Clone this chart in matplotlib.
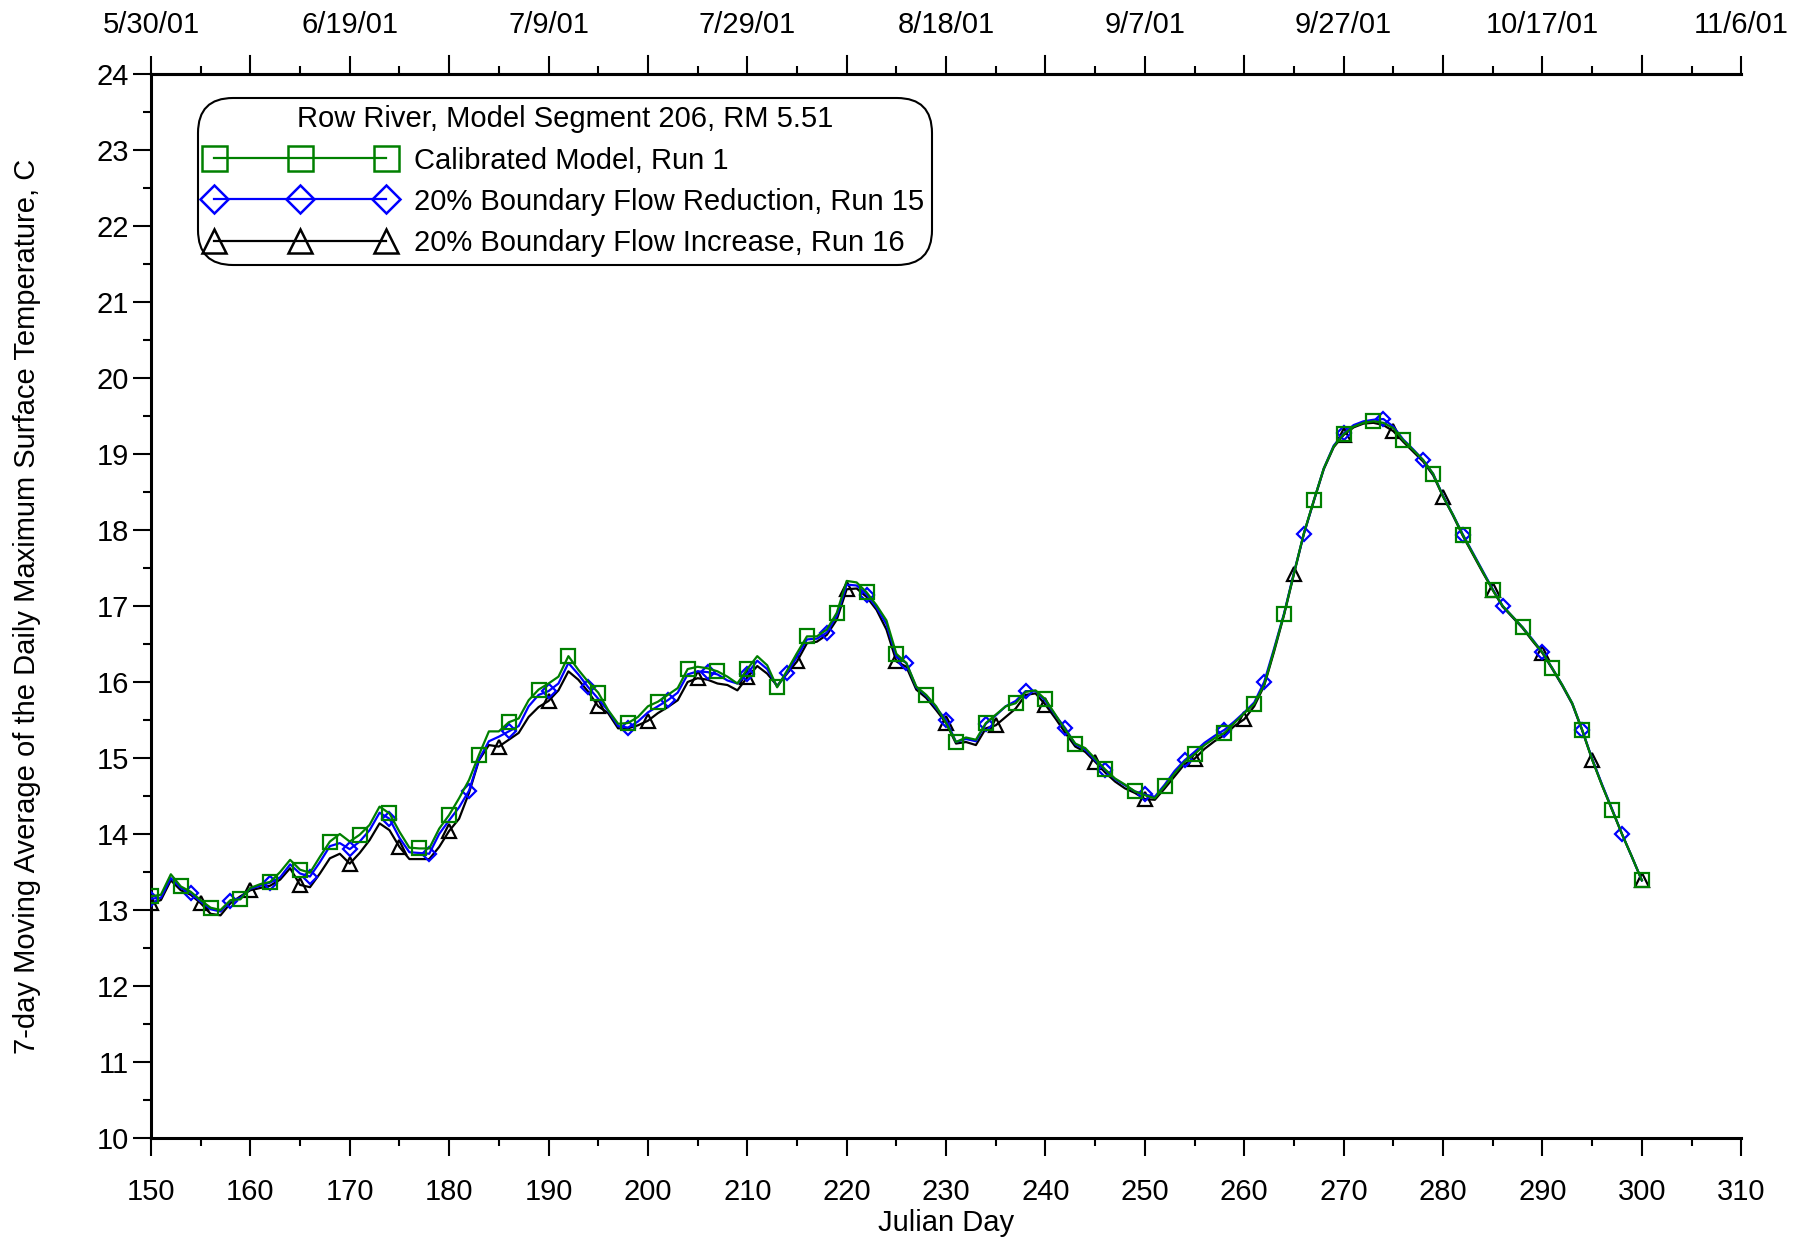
import numpy as np
import matplotlib
matplotlib.use("Agg")
import matplotlib.pyplot as plt
from matplotlib.lines import Line2D
from matplotlib.ticker import MultipleLocator

plt.rcParams['font.family'] = ['Liberation Sans', 'DejaVu Sans']

# ---------------------------------------------------------------------------
# data: 7-day moving average of daily max temperature, Julian days 150..300
# ---------------------------------------------------------------------------
days = list(range(150, 301))

run1_calibrated = [
    13.18, 13.20, 13.47, 13.31, 13.24, 13.13, 13.03, 13.00, 13.13, 13.14,  # 150
    13.29, 13.34, 13.37, 13.50, 13.66, 13.53, 13.49, 13.70, 13.90, 14.00,  # 160
    13.90, 13.99, 14.12, 14.36, 14.27, 14.03, 13.82, 13.81, 13.81, 14.07,  # 170
    14.25, 14.47, 14.71, 15.04, 15.35, 15.35, 15.47, 15.52, 15.76, 15.90,  # 180
    15.98, 16.07, 16.34, 16.16, 16.00, 15.86, 15.63, 15.45, 15.46, 15.54,  # 190
    15.68, 15.74, 15.83, 15.92, 16.17, 16.20, 16.18, 16.14, 16.07, 15.98,  # 200
    16.17, 16.34, 16.22, 15.93, 16.15, 16.38, 16.60, 16.60, 16.69, 16.91,  # 210
    17.33, 17.31, 17.18, 17.01, 16.81, 16.37, 16.25, 15.94, 15.83, 15.68,  # 220
    15.46, 15.21, 15.27, 15.24, 15.46, 15.57, 15.68, 15.72, 15.87, 15.89,  # 230
    15.77, 15.57, 15.37, 15.19, 15.13, 14.99, 14.85, 14.73, 14.65, 14.56,  # 240
    14.51, 14.47, 14.63, 14.80, 14.95, 15.05, 15.17, 15.26, 15.33, 15.46,  # 250
    15.59, 15.71, 15.96, 16.42, 16.89, 17.43, 17.96, 18.39, 18.81, 19.10,  # 260
    19.26, 19.36, 19.41, 19.43, 19.41, 19.34, 19.18, 19.05, 18.92, 18.74,  # 270
    18.44, 18.20, 17.93, 17.69, 17.45, 17.21, 17.00, 16.86, 16.72, 16.55,  # 280
    16.39, 16.18, 15.96, 15.72, 15.37, 14.98, 14.64, 14.32, 14.00, 13.70,  # 290
    13.39,                                                                 # 300
]

run15_reduction = [
    13.15, 13.16, 13.42, 13.29, 13.22, 13.11, 13.01, 12.98, 13.12, 13.16,
    13.28, 13.32, 13.36, 13.43, 13.60, 13.48, 13.44, 13.63, 13.84, 13.88,
    13.80, 13.90, 14.05, 14.28, 14.20, 13.95, 13.76, 13.75, 13.74, 14.00,
    14.18, 14.35, 14.57, 14.98, 15.22, 15.28, 15.35, 15.42, 15.68, 15.83,
    15.88, 15.98, 16.25, 16.10, 15.93, 15.78, 15.62, 15.42, 15.40, 15.48,
    15.60, 15.68, 15.76, 15.86, 16.10, 16.14, 16.13, 16.10, 16.02, 15.98,
    16.11, 16.28, 16.17, 15.94, 16.12, 16.33, 16.56, 16.57, 16.65, 16.87,
    17.28, 17.27, 17.15, 16.98, 16.76, 16.33, 16.25, 15.93, 15.82, 15.66,
    15.50, 15.21, 15.25, 15.22, 15.45, 15.56, 15.68, 15.75, 15.88, 15.88,
    15.75, 15.56, 15.39, 15.18, 15.11, 14.97, 14.84, 14.72, 14.64, 14.56,
    14.52, 14.49, 14.65, 14.83, 14.97, 15.08, 15.20, 15.29, 15.37, 15.48,
    15.60, 15.73, 16.00, 16.44, 16.90, 17.44, 17.95, 18.39, 18.81, 19.11,
    19.27, 19.38, 19.43, 19.45, 19.46, 19.36, 19.19, 19.06, 18.92, 18.74,
    18.45, 18.20, 17.94, 17.70, 17.46, 17.22, 17.00, 16.86, 16.72, 16.56,
    16.39, 16.18, 15.96, 15.72, 15.37, 14.99, 14.65, 14.33, 14.00, 13.70,
    13.39,
]

run16_increase = [
    13.09, 13.13, 13.39, 13.26, 13.20, 13.09, 12.95, 12.93, 13.09, 13.18,
    13.26, 13.29, 13.32, 13.40, 13.55, 13.33, 13.30, 13.48, 13.68, 13.74,
    13.61, 13.75, 13.92, 14.14, 14.05, 13.83, 13.67, 13.67, 13.67, 13.83,
    14.04, 14.20, 14.54, 14.97, 15.17, 15.15, 15.24, 15.33, 15.54, 15.67,
    15.75, 15.89, 16.14, 16.03, 15.87, 15.68, 15.59, 15.39, 15.39, 15.43,
    15.49, 15.59, 15.67, 15.76, 16.00, 16.05, 16.03, 15.98, 15.96, 15.89,
    16.06, 16.21, 16.11, 15.95, 16.11, 16.27, 16.51, 16.53, 16.62, 16.82,
    17.22, 17.23, 17.12, 16.95, 16.69, 16.27, 16.20, 15.90, 15.79, 15.63,
    15.46, 15.19, 15.21, 15.17, 15.39, 15.43, 15.54, 15.65, 15.83, 15.85,
    15.70, 15.52, 15.33, 15.15, 15.08, 14.95, 14.81, 14.69, 14.60, 14.54,
    14.46, 14.45, 14.60, 14.76, 14.92, 14.99, 15.12, 15.22, 15.30, 15.42,
    15.51, 15.68, 15.95, 16.40, 16.88, 17.42, 17.95, 18.38, 18.80, 19.09,
    19.25, 19.35, 19.40, 19.41, 19.38, 19.30, 19.16, 19.03, 18.90, 18.72,
    18.44, 18.19, 17.92, 17.68, 17.44, 17.21, 16.99, 16.85, 16.71, 16.54,
    16.38, 16.17, 15.95, 15.71, 15.36, 14.98, 14.64, 14.32, 14.00, 13.70,
    13.39,
]

legend_title = "Row River, Model Segment 206, RM 5.51"
label_run1 = "Calibrated Model, Run 1"
label_run15 = "20% Boundary Flow Reduction, Run 15"
label_run16 = "20% Boundary Flow Increase, Run 16"

date_ticks = [150, 170, 190, 210, 230, 250, 270, 290, 310]
date_labels = ["5/30/01", "6/19/01", "7/9/01", "7/29/01", "8/18/01",
               "9/7/01", "9/27/01", "10/17/01", "11/6/01"]

# ---------------------------------------------------------------------------
# plot
# ---------------------------------------------------------------------------
FS = 21
GREEN = '#008000'
BLUE = '#0000ff'

fig = plt.figure(figsize=(18.10, 12.41), dpi=100)
ax = fig.add_axes([0.0834, 0.083, 0.8786, 0.8574])

ax.plot(days, run16_increase, color='black', lw=1.6, marker='^', markevery=5,
        ms=10, mfc='none', mec='black', mew=1.6, zorder=3)
ax.plot(days, run15_reduction, color=BLUE, lw=1.6, marker='D', markevery=4,
        ms=7.5, mfc='none', mec=BLUE, mew=1.6, zorder=4)
ax.plot(days, run1_calibrated, color=GREEN, lw=1.6, marker='s', markevery=3,
        ms=10, mfc='none', mec=GREEN, mew=1.6, zorder=5)

ax.set_xlim(150, 310)
ax.set_ylim(10, 24)
ax.xaxis.set_major_locator(MultipleLocator(10))
ax.xaxis.set_minor_locator(MultipleLocator(5))
ax.yaxis.set_major_locator(MultipleLocator(1))
ax.yaxis.set_minor_locator(MultipleLocator(0.5))

ax.spines['right'].set_visible(False)
for s in ['left', 'bottom', 'top']:
    ax.spines[s].set_linewidth(2.2)

ax.tick_params(axis='both', which='major', direction='out', length=13,
               width=1.5, labelsize=FS)
ax.tick_params(axis='both', which='minor', direction='out', length=6, width=1.5)
ax.tick_params(axis='x', which='major', pad=16)
ax.tick_params(axis='y', which='major', pad=3)

ax.set_xlabel("Julian Day", fontsize=FS, labelpad=2)
ax.set_ylabel("7-day Moving Average of the Daily Maximum Surface Temperature, C",
              fontsize=FS, labelpad=40)

# top axis with calendar dates
ax2 = ax.twiny()
ax2.set_xlim(ax.get_xlim())
ax2.set_xticks(date_ticks)
ax2.set_xticklabels(date_labels)
ax2.set_xticks([d for d in range(155, 310, 10)], minor=True)
for s in ['left', 'right', 'bottom']:
    ax2.spines[s].set_visible(False)
ax2.spines['top'].set_linewidth(2.2)
ax2.tick_params(axis='x', which='both', direction='out', width=1.5, labelsize=FS)
ax2.tick_params(axis='x', which='major', length=13, pad=12)
ax2.tick_params(axis='x', which='minor', length=6)
# long ticks at every 10 days on top, labels only every 20
for d in range(160, 310, 20):
    ax2.axvline(d, ymin=1.0, ymax=1.0 + 13 / 1064 * 1.39, color='black',
                lw=1.5, clip_on=False)

handles = [
    Line2D([], [], color=GREEN, lw=1.6, marker='s', ms=18, mfc='none',
           mec=GREEN, mew=1.8),
    Line2D([], [], color=BLUE, lw=1.6, marker='D', ms=14, mfc='none',
           mec=BLUE, mew=1.8),
    Line2D([], [], color='black', lw=1.6, marker='^', ms=17, mfc='none',
           mec='black', mew=1.8),
]
leg = ax.legend(handles, [label_run1, label_run15, label_run16],
                title=legend_title, title_fontsize=FS, fontsize=FS,
                loc='upper left', bbox_to_anchor=(0.034, 0.971),
                numpoints=3, handlelength=6.5, handletextpad=0.66,
                labelspacing=0.45, borderpad=0.02, borderaxespad=0,
                fancybox=True, framealpha=1, edgecolor='black')
leg.get_frame().set_linewidth(1.5)
leg.get_frame().set_boxstyle('round', pad=0.25, rounding_size=1.2)
leg.set_zorder(10)

plt.savefig('out.png', dpi=100)
